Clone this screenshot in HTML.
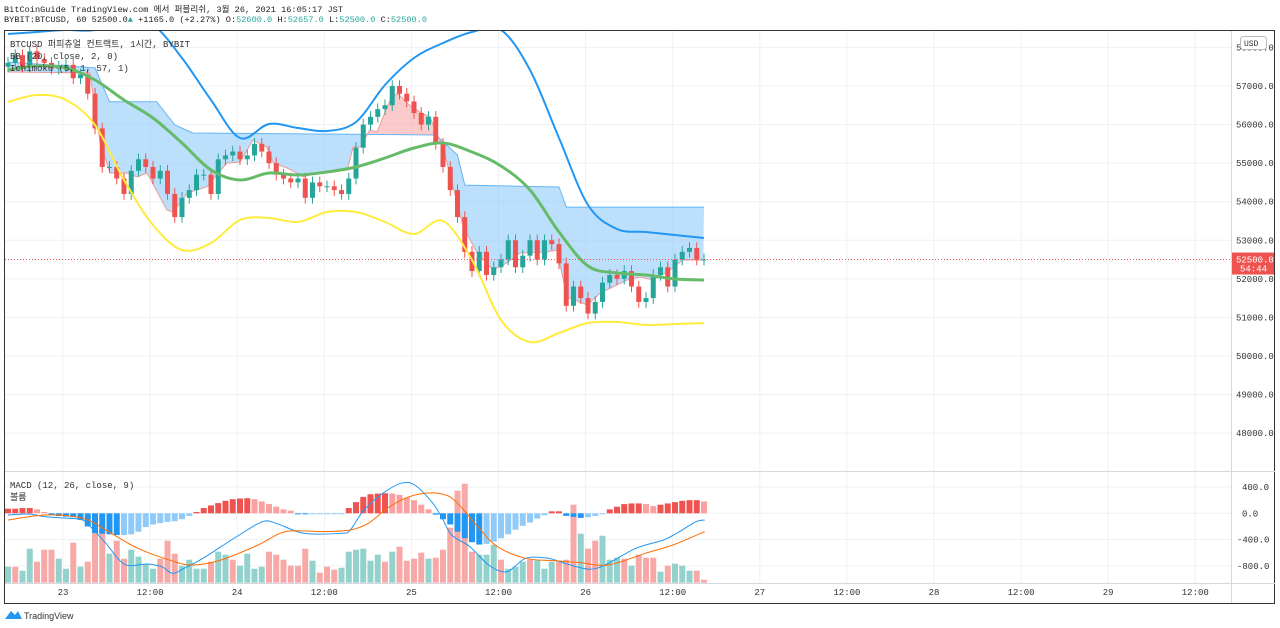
<!DOCTYPE html>
<html><head><meta charset="utf-8">
<style>
html,body{margin:0;padding:0;background:#fff;}
body{width:1280px;height:628px;overflow:hidden;position:relative;font-family:"Liberation Mono","Noto Sans CJK KR",monospace;}
.hdr{position:absolute;left:4px;font-size:8.6px;color:#222;white-space:pre;}
.t{color:#26a69a;}
</style></head>
<body>
<div class="hdr" style="top:3px">BitCoinGuide TradingView.com 에서 퍼블리쉬, 3월 26, 2021 16:05:17 JST</div>
<div class="hdr" style="top:15px">BYBIT:BTCUSD, 60 52500.0<span class="t">▲</span> +1165.0 (+2.27%) O:<span class="t">52600.0</span> H:<span class="t">52657.0</span> L:<span class="t">52500.0</span> C:<span class="t">52500.0</span></div>
<svg id="c" width="1280" height="628" style="position:absolute;left:0;top:0" font-family="Liberation Mono, Noto Sans CJK KR, monospace"></svg>
<script>
// ---- data ----
const closes=[57600,57800,57500,57900,57700,57600,57450,57500,57550,57200,57300,56800,55900,54900,54900,54600,54200,54800,55100,54900,54600,54800,54200,53600,54100,54300,54700,54700,54200,55100,55200,55300,55100,55200,55500,55300,55000,54700,54600,54500,54600,54100,54500,54400,54400,54300,54200,54600,55400,56000,56200,56400,56500,57000,56800,56600,56300,56000,56200,55500,54900,54300,53600,52700,52200,52700,52100,52300,52500,53000,52300,52600,53000,52500,53000,52900,52400,51300,51800,51500,51100,51400,51900,52100,52000,52200,51800,51400,51500,52100,52300,51800,52500,52700,52800,52500,52500];
const firstOpen=57500;
const bbIdx=[0,4,8,12,16,20,24,28,32,36,40,44,48,52,56,60,64,68,72,76,80,84,88,92,96];
const bbUpper=[58348,58400,58452,58452,58711,58582,57726,56637,55652,56015,55911,55833,56067,57026,57726,58115,58400,58452,57415,55652,53914,53292,53214,53137,53059];
const bbBasis=[57415,57519,57467,57156,56637,56170,55522,54822,54563,54744,54692,54770,54900,55133,55392,55522,55289,54926,54303,53214,52333,52151,52099,51996,51970];
const bbLower=[56585,56767,56637,55989,54563,53396,52748,52929,53526,53578,53474,53733,53733,53474,53162,53500,52488,50932,50362,50595,50855,50880,50803,50829,50855];
const spanBIdx=[0,12,14,20.5,23,25.5,59,62,63,76,77,96];
const spanB=[57620,57470,56590,56590,55990,55780,55730,55210,54430,54380,53860,53860];
const spanAIdx=[0,11.3,12.7,14.1,16.4,17.8,19.2,21.9,22.8,24.7,27.4,30.2,32,33.8,35.7,36.6,38.5,40.7,43,46.8,47.6,48.6,49.9,50.9,52.7,53.7,55,56.8,58.2,59.2,60,61.4,62.8,64.7,66.9,68.8,70.6,74.3,75.7,77.1,79.9,81.7,83.4,85.4,87.2,89,91.3,93.1,95.9];
const spanA=[57363,57337,55522,54744,54744,54640,54744,53785,53733,54225,54381,55003,55029,55600,55418,55003,54874,54640,54770,54822,55418,55418,55859,55807,56637,56818,56559,56326,56196,55729,55418,54381,53344,52670,52229,52410,52670,52696,52748,51529,51322,51633,51788,51970,52047,51970,52229,52488,52488];
const hist=[70,70,80,80,60,20,-20,-40,-50,-60,-100,-200,-300,-310,-320,-330,-330,-320,-280,-210,-170,-150,-130,-120,-90,-40,20,80,120,155,190,215,225,230,215,180,140,100,60,40,-10,-15,-15,-15,-15,-10,-5,80,170,250,290,300,305,300,280,240,200,130,60,-20,-90,-170,-280,-380,-440,-475,-465,-430,-380,-320,-250,-190,-140,-80,-30,30,30,-40,-55,-70,-60,-40,-10,60,100,140,150,150,140,110,130,150,170,190,200,200,180];
const macdIdx=[0,2.7,5.2,8.4,10.3,11.6,13.5,16.1,19.2,21.2,22.7,24.3,26.9,29.4,31.9,35.1,37,40.8,45.9,47.2,49.1,51.7,54.2,56.1,58.6,59.9,61.2,63.7,66.3,68.8,71.4,74.5,77.1,80.3,82.8,86.6,90.4,92.3,94.9,96.1];
const macdLine=[-26,-10,-51,-76,-102,-229,-457,-776,-771,-812,-913,-837,-685,-507,-330,-127,-152,-304,-304,-254,50,304,456,431,152,-76,-330,-507,-786,-888,-685,-685,-771,-852,-761,-533,-406,-300,-127,-102];
const signalIdx=[0,5.2,10.3,13.5,17.9,23,25.6,29.4,34.5,38.3,43.4,47.2,49.7,52.3,54.8,57.4,59.9,61.8,65,67.5,71.4,75.2,79,82.8,87.9,91.7,96.1];
const signalLine=[-102,-26,-76,-254,-533,-736,-786,-710,-482,-279,-279,-254,-152,76,228,304,294,177,-229,-507,-685,-720,-751,-786,-609,-482,-279];
const volume=[16,16,12,34,21,33,33,24,14,40,16,21,52,51,29,42,24,33,26,19,14,24,42,29,17,23,14,14,21,31,28,23,17,29,14,16,31,28,23,17,17,34,22,10,16,13,15,31,33,34,22,28,21,31,36,22,24,30,24,25,33,55,92,99,31,28,28,38,23,14,16,21,23,23,14,21,21,23,78,49,34,42,47,23,25,24,17,28,25,25,11,17,19,17,12,12,3];
const volUp=[1,0,1,1,0,0,0,1,1,0,1,0,0,0,1,0,0,1,1,1,1,0,0,0,1,1,1,1,0,1,1,0,1,1,1,1,0,0,0,0,0,0,1,0,0,0,1,1,1,1,1,1,0,1,0,0,0,0,1,0,0,0,0,0,0,1,1,1,0,1,1,1,0,1,1,1,0,0,0,1,0,0,1,1,1,0,1,0,0,0,1,0,1,1,1,0,0];
const priceTicks=[58000,57000,56000,55000,54000,53000,52000,51000,50000,49000,48000];
const macdTicks=[400,0,-400,-800];
const timeLabels=["23","12:00","24","12:00","25","12:00","26","12:00","27","12:00","28","12:00","29","12:00"];
const lastPrice=52500;

// ---- scales ----
const X=i=>8+i*7.25;
const Y=p=>86+(57000-p)*0.038563;
const MY=v=>513.3-v*0.06575;
const svg=document.getElementById('c');
const NS='http://www.w3.org/2000/svg';
function mk(tag,attrs,parent){const e=document.createElementNS(NS,tag);for(const k in attrs)e.setAttribute(k,attrs[k]);(parent||svg).appendChild(e);return e;}
const pts=(idx,vals,yf)=>idx.map((i,k)=>X(i).toFixed(1)+','+yf(vals[k]).toFixed(1)).join(' ');
function smooth(idx,vals,yf){
  const P=idx.map((i,k)=>[X(i),yf(vals[k])]);
  let d='M'+P[0][0].toFixed(1)+','+P[0][1].toFixed(1);
  for(let k=0;k<P.length-1;k++){
    const p0=P[k-1]||P[k],p1=P[k],p2=P[k+1],p3=P[k+2]||p2;
    const c1=[p1[0]+(p2[0]-p0[0])/6,p1[1]+(p2[1]-p0[1])/6];
    const c2=[p2[0]-(p3[0]-p1[0])/6,p2[1]-(p3[1]-p1[1])/6];
    d+=' C'+c1.map(v=>v.toFixed(1))+' '+c2.map(v=>v.toFixed(1))+' '+p2.map(v=>v.toFixed(1));
  }
  return d;
}

// defs/clips
const defs=mk('defs',{});
const cp1=mk('clipPath',{id:'mainClip'},defs);mk('rect',{x:5,y:31,width:1226,height:440},cp1);
const cp2=mk('clipPath',{id:'macdClip'},defs);mk('rect',{x:5,y:472,width:1226,height:111},cp2);
const bPoly=pts(spanBIdx,spanB,Y);
const cpAbove=mk('clipPath',{id:'aboveB'},defs);mk('polygon',{points:'0,0 '+X(0)+',0 '+bPoly+' '+X(96)+',0'},cpAbove);
const cpBelow=mk('clipPath',{id:'belowB'},defs);mk('polygon',{points:X(0)+',700 '+bPoly+' '+X(96)+',700'},cpBelow);

// grid
const grid=mk('g',{stroke:'#eef0f4','stroke-width':1});


priceTicks.forEach(p=>mk('line',{x1:5,x2:1231,y1:Y(p),y2:Y(p)},grid));
macdTicks.forEach(v=>mk('line',{x1:5,x2:1231,y1:MY(v),y2:MY(v)},grid));
timeLabels.forEach((t,k)=>{const x=63+k*87.1;mk('line',{x1:x,x2:x,y1:31,y2:583},grid);});

// main pane
const main=mk('g',{'clip-path':'url(#mainClip)'});


const aRev=spanAIdx.map((i,k)=>X(i).toFixed(1)+','+Y(spanA[k]).toFixed(1)).reverse().join(' ');
const cloudPts=bPoly+' '+aRev;
const cloudBlue=mk('polygon',{points:cloudPts,fill:'#90caf9','fill-opacity':0.6,'clip-path':'url(#belowB)'},main);


const cloudRed=mk('polygon',{points:cloudPts,fill:'#f7a9a7','fill-opacity':0.6,'clip-path':'url(#aboveB)'},main);


const lb=mk('polyline',{points:bPoly,fill:'none',stroke:'#64b5f6','stroke-width':1},main);


const la=mk('polyline',{points:pts(spanAIdx,spanA,Y),fill:'none',stroke:'#ef9a9a','stroke-width':1},main);



// candles
closes.forEach((c,i)=>{
  const o=i?closes[i-1]:firstOpen;const up=c>=o;const col=up?'#26a69a':'#ef5350';
  const hi=Math.max(o,c)+150,lo=Math.min(o,c)-150;
  const g=mk('g',{},main);
  
  
  mk('line',{x1:X(i),x2:X(i),y1:Y(hi),y2:Y(lo),stroke:col,'stroke-width':1},g);
  const y1=Y(Math.max(o,c)),y2=Y(Math.min(o,c));
  mk('rect',{x:X(i)-2.5,y:y1,width:5,height:Math.max(1,y2-y1),fill:col},g);
});
// BB lines
[[bbUpper,'#2196f3','bb-upper-band'],[bbBasis,'#66bb6a','bb-basis'],[bbLower,'#ffeb3b','bb-lower-band']].forEach(([arr,col,nm])=>{
  const l=mk('path',{d:smooth(bbIdx,arr,Y),fill:'none',stroke:col,'stroke-width':nm==='bb-basis'?3:2,'stroke-linejoin':'round'},main);
  
  
});
const pl=mk('line',{x1:5,x2:1231,y1:Y(lastPrice),y2:Y(lastPrice),stroke:'#ef5350','stroke-width':1,'stroke-dasharray':'1,2'});



// MACD pane
const mp=mk('g',{'clip-path':'url(#macdClip)'});


volume.forEach((v,i)=>{
  const r=mk('rect',{x:X(i)-3,y:582.7-v,width:6,height:v,fill:volUp[i]?'#93d2cc':'#f7a9a7'},mp);
  
  
});
hist.forEach((v,i)=>{
  const prev=i?hist[i-1]:v;const rising=v>=prev;
  const col=v>=0?(rising?'#ef5350':'#f9a0a0'):(rising?'#90caf9':'#2196f3');
  const y0=MY(0),y1=MY(v);
  const r=mk('rect',{x:X(i)-3,y:Math.min(y0,y1),width:6,height:Math.max(1,Math.abs(y1-y0)),fill:col},mp);
  
  
});
const ml=mk('path',{d:smooth(macdIdx,macdLine,MY),fill:'none',stroke:'#2196f3','stroke-width':1},mp);


const sl=mk('path',{d:smooth(signalIdx,signalLine,MY),fill:'none',stroke:'#ff6d00','stroke-width':1},mp);



// frame lines
const fr=mk('g',{stroke:'#333',fill:'none','stroke-width':1});


mk('rect',{x:4.5,y:30.5,width:1270,height:573},fr);
mk('line',{x1:1231.5,x2:1231.5,y1:31,y2:603,stroke:'#d6d8de'},fr);
mk('line',{x1:5,x2:1275,y1:471.5,y2:471.5,stroke:'#d6d8de'},fr);
mk('line',{x1:5,x2:1275,y1:583.5,y2:583.5,stroke:'#d6d8de'},fr);

// axes labels
const ax=mk('g',{'font-size':9,fill:'#333'});


priceTicks.forEach(p=>{const t=mk('text',{x:1236,y:Y(p)+3},ax);t.textContent=p.toFixed(1);});
const mx=mk('g',{'font-size':9,fill:'#333'});


macdTicks.forEach(v=>{const t=mk('text',{x:v<0?1237:1242,y:MY(v)+3},mx);t.textContent=v.toFixed(1);});
const tx=mk('g',{'font-size':9,fill:'#333','text-anchor':'middle'});


timeLabels.forEach((s,k)=>{const t=mk('text',{x:63+k*87.1,y:595},tx);t.textContent=s;});

// last price badge
const bg=mk('g',{});


mk('rect',{x:1232,y:Y(lastPrice)-7,width:42,height:22,fill:'#ef5350'},bg);
let t=mk('text',{x:1236,y:Y(lastPrice)+3,'font-size':9,fill:'#fff'},bg);t.textContent=lastPrice.toFixed(1);
t=mk('text',{x:1240,y:Y(lastPrice)+12,'font-size':9,fill:'#fff'},bg);t.textContent='54:44';
// USD badge
const ub=mk('g',{});


mk('rect',{x:1240.5,y:36.5,width:26,height:13,rx:3,fill:'#fff',stroke:'#bbb'},ub);
t=mk('text',{x:1244,y:46,'font-size':8,fill:'#333'},ub);t.textContent='USD';

// legends
const lg=mk('g',{'font-size':9,fill:'#333'});


[['BTCUSD 퍼피츄얼 컨트랙트, 1시간, BYBIT',47],['BB (20, close, 2, 0)',59],['Ichimoku (5, 1, 57, 1)',71],['MACD (12, 26, close, 9)',488],['볼륨',500]].forEach(([s,y])=>{const e=mk('text',{x:10,y:y},lg);e.textContent=s;});

// footer logo
const lo=mk('g',{});


mk('path',{d:'M5 619 L11 611 L15 615 L18 611 L22 619 Z',fill:'#2196f3'},lo);
t=mk('text',{x:24,y:619,'font-size':9,fill:'#333','font-family':'Liberation Sans, sans-serif'},lo);t.textContent='TradingView';
</script>
</body></html>
